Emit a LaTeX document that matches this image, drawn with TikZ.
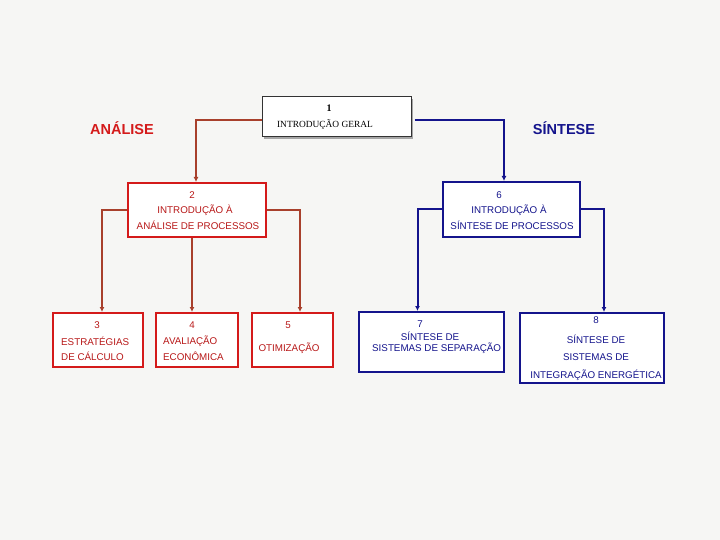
\documentclass[tikz,border=0pt]{standalone}
\usepackage{fontspec}
\setmainfont{Liberation Sans}
\newfontfamily\serifface{Liberation Serif}
\usetikzlibrary{arrows.meta}
\definecolor{bg}{HTML}{F6F6F4}
\definecolor{boxred}{HTML}{D41A1A}
\definecolor{linered}{HTML}{A8402C}
\definecolor{boxblue}{HTML}{14148C}
\definecolor{txtred}{HTML}{B81818}
\definecolor{txtblue}{HTML}{14148C}
\tikzset{
  redbox/.style={draw=boxred, line width=2pt, fill=white, minimum width=#1, inner sep=0pt},
  bluebox/.style={draw=boxblue, line width=2pt, fill=white, minimum width=#1, inner sep=0pt},
  redcon/.style={draw=linered, line width=2pt, -{Latex[length=5pt,width=5pt]}},
  bluecon/.style={draw=boxblue, line width=2pt, -{Latex[length=5pt,width=5pt]}},
  rt/.style={text=txtred, font=\fontsize{9.8}{11}\selectfont, inner sep=0pt},
  bt/.style={text=txtblue, font=\fontsize{9.8}{11}\selectfont, inner sep=0pt},
}
\begin{document}
\begin{tikzpicture}[x=1pt,y=-1pt]
\fill[bg] (0,0) rectangle (720,540);
\useasboundingbox (0,0) rectangle (720,540);
% box 1 with shadow
\fill[gray!70] (264,99) rectangle (413,139);
\node[draw=black!80, line width=1pt, fill=white, minimum width=149pt, minimum height=40pt, inner sep=0pt] (b1) at (336.5,117) {};
\node[font=\serifface\bfseries\fontsize{10}{11}\selectfont, inner sep=0pt] (t1a) at (329,108) {1};
\node[font=\serifface\fontsize{9.4}{10}\selectfont, inner sep=0pt] (t1b) at (325,125) {INTRODUÇÃO GERAL};
% headings
\node[text=boxred, font=\bfseries\fontsize{14.5}{16}\selectfont, inner sep=0pt] (ana) at (122,128) {ANÁLISE};
\node[text=boxblue, font=\bfseries\fontsize{14.5}{16}\selectfont, inner sep=0pt] (sin) at (564,128) {SÍNTESE};
% level 2 boxes
\node[redbox=138pt, minimum height=54pt] (b2) at (197,210) {};
\node[bluebox=137pt, minimum height=55pt] (b6) at (511.5,209.5) {};
\node[rt] (t2a) at (192,195) {2};
\node[rt] (t2b) at (195,210) {INTRODUÇÃO À};
\node[rt] (t2c) at (198,225) {ANÁLISE DE PROCESSOS};
\node[bt] (t6a) at (499,195) {6};
\node[bt] (t6b) at (509,210) {INTRODUÇÃO À};
\node[bt] (t6c) at (512,225) {SÍNTESE DE PROCESSOS};
% level 3 boxes
\node[redbox=90pt, minimum height=54pt] (b3) at (98,340) {};
\node[redbox=82pt, minimum height=54pt] (b4) at (197,340) {};
\node[redbox=81pt, minimum height=54pt] (b5) at (292.5,340) {};
\node[bluebox=145pt, minimum height=60pt] (b7) at (431.5,342) {};
\node[bluebox=144pt, minimum height=70pt] (b8) at (592,348) {};
\node[rt] (t3a) at (97,325) {3};
\node[rt, anchor=west] (t3b) at (61,341) {ESTRATÉGIAS};
\node[rt, anchor=west] (t3c) at (61,356) {DE CÁLCULO};
\node[rt] (t4a) at (192,325) {4};
\node[rt, anchor=west] (t4b) at (163,341) {AVALIAÇÃO};
\node[rt, anchor=west] (t4c) at (163,356) {ECONÔMICA};
\node[rt] (t5a) at (288,325) {5};
\node[rt] (t5b) at (289,348) {OTIMIZAÇÃO};
\node[bt] (t7a) at (420,324) {7};
\node[bt] (t7b) at (430,336) {SÍNTESE DE};
\node[bt, anchor=west] (t7c) at (372,348) {SISTEMAS DE SEPARAÇÃO};
\node[bt] (t8a) at (596,320) {8};
\node[bt] (t8b) at (596,339) {SÍNTESE DE};
\node[bt] (t8c) at (596,357) {SISTEMAS DE};
\node[bt] (t8d) at (596,375) {INTEGRAÇÃO ENERGÉTICA};
% connectors
\draw[redcon] ([yshift=-3pt]b1.west) -| ([xshift=-1pt]b2.north);
\draw[bluecon] ([yshift=-3pt,xshift=3pt]b1.east) -| ([xshift=-7.5pt]b6.north);
\draw[redcon] (b2.west) -| ([xshift=4pt]b3.north);
\draw[redcon] ([xshift=-5pt]b2.south) -- ([xshift=-5pt]b4.north);
\draw[redcon] (b2.east) -| ([xshift=7.5pt]b5.north);
\draw[bluecon] (b6.west) -| ([xshift=-14pt]b7.north);
\draw[bluecon] (b6.east) -| ([xshift=12pt]b8.north);
\end{tikzpicture}
\end{document}
